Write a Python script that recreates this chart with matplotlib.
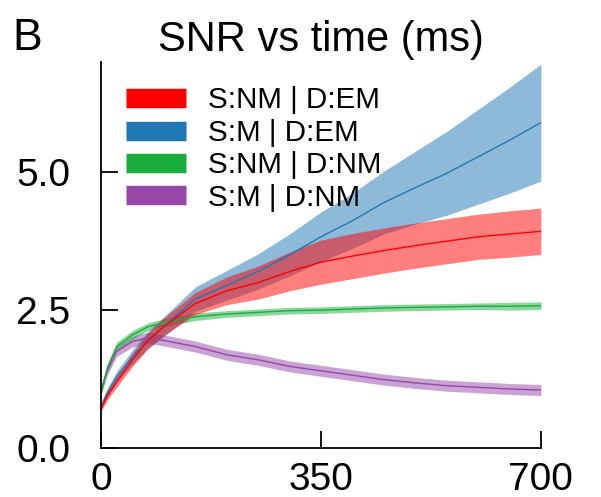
import matplotlib.pyplot as plt
import numpy as np
from matplotlib.lines import Line2D

plt.rcParams['font.family'] = ['Liberation Sans', 'DejaVu Sans']

# tiempo en ms
t = [0, 10, 25, 50, 75, 100, 150, 200, 250, 300, 350, 400, 450, 500, 550, 600, 650, 700]

# S:NM | D:EM (rojo)
red_mean = [0.72, 0.95, 1.2, 1.6, 1.95, 2.2, 2.62, 2.85, 3.0, 3.2, 3.37, 3.48, 3.58, 3.67, 3.75, 3.83, 3.88, 3.93]
red_err = [0.06, 0.08, 0.1, 0.12, 0.14, 0.16, 0.2, 0.25, 0.3, 0.35, 0.4, 0.41, 0.41, 0.41, 0.41, 0.41, 0.42, 0.42]

# S:M | D:EM (azul)
blue_mean = [0.75, 1.0, 1.29, 1.65, 1.96, 2.2, 2.7, 2.95, 3.2, 3.5, 3.83, 4.12, 4.45, 4.72, 4.98, 5.28, 5.58, 5.9]
blue_err = [0.06, 0.08, 0.1, 0.13, 0.16, 0.18, 0.22, 0.27, 0.32, 0.38, 0.45, 0.5, 0.57, 0.66, 0.76, 0.86, 0.96, 1.06]

# S:NM | D:NM (verde)
green_mean = [1.0, 1.45, 1.84, 2.05, 2.2, 2.27, 2.38, 2.43, 2.46, 2.49, 2.5, 2.52, 2.54, 2.55, 2.56, 2.57, 2.57, 2.58]
green_err = [0.06, 0.07, 0.08, 0.08, 0.07, 0.07, 0.07, 0.06, 0.06, 0.06, 0.06, 0.06, 0.06, 0.06, 0.06, 0.06, 0.07, 0.07]

# S:M | D:NM (morado)
purple_mean = [1.05, 1.4, 1.75, 1.93, 2.0, 1.95, 1.84, 1.69, 1.6, 1.48, 1.4, 1.32, 1.24, 1.18, 1.13, 1.1, 1.07, 1.05]
purple_err = [0.07, 0.08, 0.09, 0.1, 0.1, 0.1, 0.1, 0.1, 0.1, 0.1, 0.1, 0.1, 0.1, 0.1, 0.1, 0.1, 0.1, 0.1]

labels = ['S:NM | D:EM', 'S:M | D:EM', 'S:NM | D:NM', 'S:M | D:NM']
colors = ['#ff0000', '#1f77b4', '#1aad3c', '#9548a8']

fig = plt.figure(figsize=(6.01, 4.97), dpi=100)
ax = fig.add_axes([0.168, 0.0986, 0.732, 0.7767])

series = [(red_mean, red_err), (blue_mean, blue_err), (green_mean, green_err), (purple_mean, purple_err)]
# orden de dibujo: morado y verde debajo
for i in [3, 2, 1, 0]:
    m = np.array(series[i][0])
    e = np.array(series[i][1])
    ax.fill_between(t, m - e, m + e, color=colors[i], alpha=0.5, lw=0)
    ax.plot(t, m, color=colors[i], lw=1)

ax.set_xlim(0, 700)
ax.set_ylim(0, 7)
ax.set_xticks([0, 350, 700])
ax.set_yticks([0, 2.5, 5.0])
ax.set_yticklabels(['0.0', '2.5', '5.0'])
ax.spines['top'].set_visible(False)
ax.spines['right'].set_visible(False)
ax.spines['left'].set_linewidth(1.3)
ax.spines['bottom'].set_linewidth(1.3)
ax.tick_params(direction='in', length=12, width=1.3, labelsize=28)
ax.tick_params(axis='x', pad=10)
ax.tick_params(axis='y', pad=22)

ax.set_title('SNR vs time (ms)', fontsize=30, pad=8)
fig.text(0.02, 0.9, 'B', fontsize=32)

handles = [Line2D([0], [0], color=c, lw=14, solid_capstyle='butt') for c in colors]
leg = ax.legend(handles, labels, loc='upper left', bbox_to_anchor=(0.024, 0.975), frameon=False,
                fontsize=21.3, handlelength=2.03, handletextpad=0.74, labelspacing=0.15, borderpad=0)
leg.set_zorder(5)

fig.savefig('out.png', dpi=100)
